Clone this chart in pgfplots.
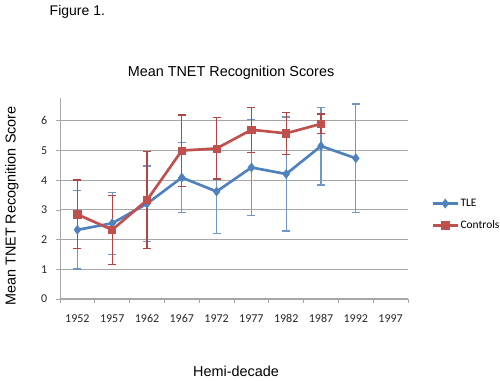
\documentclass[border=0pt]{standalone}
\usepackage{pgfplots}
\pgfplotsset{compat=1.18}
\usepackage{fontspec}
\setmainfont{Liberation Sans}
\newfontfamily\carlito{Carlito}
\definecolor{tleblue}{HTML}{4F81BD}
\definecolor{tleerr}{HTML}{7197C8}
\definecolor{ctlred}{HTML}{C0504D}
\definecolor{ctlerr}{HTML}{B04643}
\definecolor{gridgray}{HTML}{A6A6A6}
\pgfplotstableread{
x y e
0 2.33 1.32
1 2.55 1.05
2 3.21 1.27
3 4.09 1.18
4 3.62 1.41
5 4.43 1.62
6 4.21 1.92
7 5.15 1.31
8 4.74 1.83
}\tle
\pgfplotstableread{
x y e
0 2.85 1.16
1 2.33 1.16
2 3.33 1.64
3 5.00 1.20
4 5.07 1.03
5 5.70 0.76
6 5.58 0.70
7 5.90 0.33
}\ctl
\begin{document}
\begin{tikzpicture}
\path[use as bounding box] (0pt,0pt) rectangle (375pt,285.75pt);
\begin{axis}[
  at={(45pt,61.5pt)}, anchor=south west,
  scale only axis, width=261pt, height=150.75pt,
  xmin=-0.5, xmax=9.5, ymin=0, ymax=6.77,
  axis x line=bottom, axis y line=left,
  axis line style={-, draw=gridgray, line width=0.6pt},
  xtick={0,...,9},
  xticklabels={1952,1957,1962,1967,1972,1977,1982,1987,1992,1997},
  minor xtick={-0.5,0.5,...,9.5},
  major x tick style={draw=none},
  minor x tick style={draw=gridgray, line width=0.6pt},
  ytick={0,...,6},
  ytick style={draw=gridgray, line width=0.6pt},
  tick align=outside,
  major tick length=3pt, minor tick length=3pt,
  ymajorgrids,
  major grid style={draw=gridgray, line width=0.8pt},
  /pgf/number format/assume math mode=true,
  tick label style={font=\carlito\fontsize{9}{10}\selectfont, text=black!85},
  xticklabel style={yshift=-5pt},
  yticklabel style={xshift=-3pt},
  legend style={at={(1.066,0.42)}, anchor=west, draw=none, fill=none,
    inner sep=0pt, nodes={inner sep=1pt},
    font=\carlito\fontsize{8.6}{10}\selectfont, row sep=7pt,
    legend cell align=left},
  legend image code/.code={\draw[mark repeat=2,mark phase=2] plot coordinates {(0pt,0pt)(9.5pt,0pt)(19pt,0pt)};},
]
\addplot[color=tleblue, line width=2pt, mark=diamond*, mark size=3.3pt,
  mark options={fill=tleblue, line width=0.5pt},
  error bars/.cd, y dir=both, y explicit,
  error bar style={color=tleerr, line width=0.9pt},
  error mark options={color=tleerr, mark size=3pt, line width=0.9pt, rotate=90}]
  table[x=x, y=y, y error=e] {\tle};
\addlegendentry{TLE}
\addplot[color=ctlred, line width=2pt, mark=square*, mark size=2.7pt,
  mark options={fill=ctlred, line width=0.5pt},
  error bars/.cd, y dir=both, y explicit,
  error bar style={color=ctlerr, line width=0.9pt},
  error mark options={color=ctlerr, mark size=3pt, line width=0.9pt, rotate=90}]
  table[x=x, y=y, y error=e] {\ctl};
\addlegendentry{Controls}
\end{axis}
\node[anchor=west, font=\fontsize{10.5}{12}\selectfont] at (33.75pt,276.75pt) {Figure 1.};
\node[font=\fontsize{10.8}{13}\selectfont] at (173.25pt,231pt) {Mean TNET Recognition Scores};
\node[font=\fontsize{10.8}{13}\selectfont, rotate=90] at (9pt,131.25pt) {Mean TNET Recognition Score};
\node[font=\fontsize{10.8}{13}\selectfont] at (177pt,7.5pt) {Hemi-decade};
\end{tikzpicture}
\end{document}
